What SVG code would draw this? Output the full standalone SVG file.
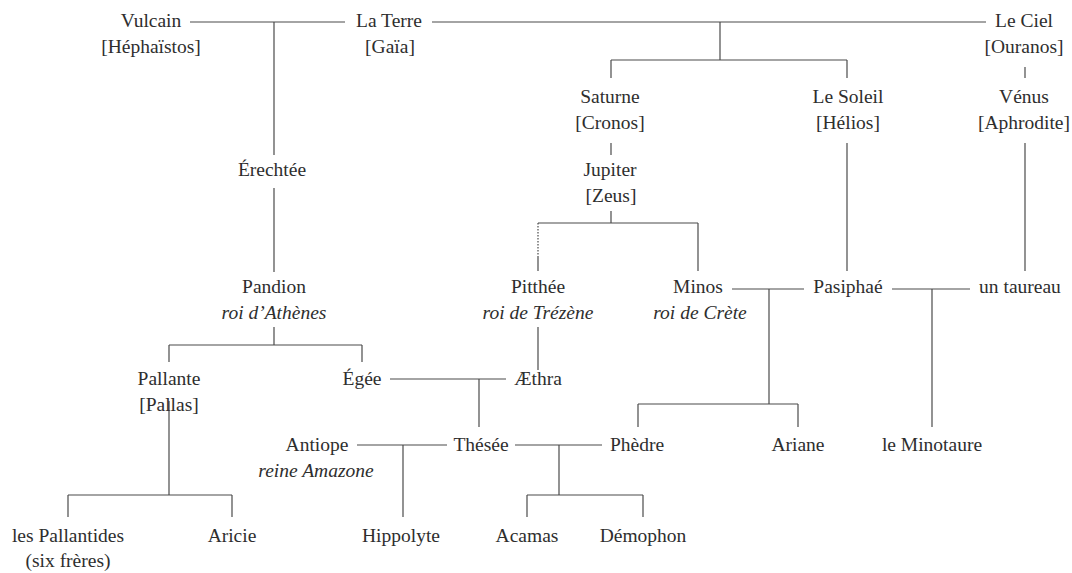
<svg xmlns="http://www.w3.org/2000/svg" width="1072" height="573" viewBox="0 0 1072 573">
<style>
text{font-family:"Liberation Serif","Times New Roman",serif;font-size:19.5px;fill:#2e2e2e;text-anchor:middle}
.it{font-style:italic}
.c line{stroke:#4a4a4a;stroke-width:1.2;fill:none}
.c line.dot{stroke-dasharray:1.5 1.5}
</style>
<rect width="1072" height="573" fill="#fff"/>
<g id="connectors" class="c">
<line x1="190" y1="22" x2="345" y2="22"/>
<line x1="274" y1="22" x2="274" y2="155"/>
<line x1="274" y1="188" x2="274" y2="272"/>
<line x1="432" y1="22" x2="986" y2="22"/>
<line x1="720" y1="22" x2="720" y2="60"/>
<line x1="611" y1="60" x2="847" y2="60"/>
<line x1="611" y1="60" x2="611" y2="78"/>
<line x1="847" y1="60" x2="847" y2="78"/>
<line x1="1025" y1="67" x2="1025" y2="78"/>
<line x1="611" y1="143" x2="611" y2="155"/>
<line x1="847" y1="143" x2="847" y2="271"/>
<line x1="1025" y1="143" x2="1025" y2="271"/>
<line x1="611" y1="211" x2="611" y2="223"/>
<line x1="538" y1="223" x2="698" y2="223"/>
<line class="dot" x1="538" y1="223" x2="538" y2="256"/>
<line x1="538" y1="256" x2="538" y2="271"/>
<line x1="698" y1="223" x2="698" y2="271"/>
<line x1="732" y1="289" x2="804" y2="289"/>
<line x1="769" y1="289" x2="769" y2="404"/>
<line x1="638" y1="404" x2="798" y2="404"/>
<line x1="638" y1="404" x2="638" y2="427"/>
<line x1="798" y1="404" x2="798" y2="427"/>
<line x1="892" y1="289" x2="970" y2="289"/>
<line x1="932" y1="289" x2="932" y2="427"/>
<line x1="274" y1="327" x2="274" y2="345"/>
<line x1="169" y1="345" x2="362" y2="345"/>
<line x1="169" y1="345" x2="169" y2="362"/>
<line x1="362" y1="345" x2="362" y2="362"/>
<line x1="538" y1="327" x2="538" y2="370"/>
<line x1="390" y1="379" x2="506" y2="379"/>
<line x1="479" y1="379" x2="479" y2="427"/>
<line x1="169" y1="401" x2="169" y2="495"/>
<line x1="68" y1="495" x2="232" y2="495"/>
<line x1="68" y1="495" x2="68" y2="517"/>
<line x1="232" y1="495" x2="232" y2="517"/>
<line x1="357" y1="445" x2="447" y2="445"/>
<line x1="403" y1="445" x2="403" y2="517"/>
<line x1="515" y1="445" x2="602" y2="445"/>
<line x1="559" y1="445" x2="559" y2="495"/>
<line x1="527" y1="495" x2="643" y2="495"/>
<line x1="527" y1="495" x2="527" y2="517"/>
<line x1="643" y1="495" x2="643" y2="517"/>
</g>
<g id="vulcain"><text x="151" y="27">Vulcain</text><text x="151" y="53">[Héphaïstos]</text></g>
<g id="la-terre"><text x="389" y="27">La Terre</text><text x="390" y="53">[Gaïa]</text></g>
<g id="le-ciel"><text x="1024" y="27">Le Ciel</text><text x="1024" y="53">[Ouranos]</text></g>
<g id="saturne"><text x="610" y="103">Saturne</text><text x="610" y="129">[Cronos]</text></g>
<g id="le-soleil"><text x="848" y="103">Le Soleil</text><text x="848" y="129">[Hélios]</text></g>
<g id="venus"><text x="1024" y="103">Vénus</text><text x="1024" y="129">[Aphrodite]</text></g>
<g id="erechtee"><text x="272" y="176">Érechtée</text></g>
<g id="jupiter"><text x="610" y="176">Jupiter</text><text x="611" y="202">[Zeus]</text></g>
<g id="pandion"><text x="274" y="293">Pandion</text><text class="it" x="274" y="319">roi d’Athènes</text></g>
<g id="pitthee"><text x="538" y="293">Pitthée</text><text class="it" x="538" y="319">roi de Trézène</text></g>
<g id="minos"><text x="698" y="293">Minos</text><text class="it" x="700" y="319">roi de Crète</text></g>
<g id="pasiphae"><text x="848" y="293">Pasiphaé</text></g>
<g id="taureau"><text x="1020" y="293">un taureau</text></g>
<g id="pallante"><text x="169" y="385">Pallante</text><text x="169" y="411">[Pallas]</text></g>
<g id="egee"><text x="362" y="385">Égée</text></g>
<g id="aethra"><text x="538" y="385">Æthra</text></g>
<g id="antiope"><text x="317" y="451">Antiope</text><text class="it" x="316" y="477">reine Amazone</text></g>
<g id="thesee"><text x="481" y="451">Thésée</text></g>
<g id="phedre"><text x="637" y="451">Phèdre</text></g>
<g id="ariane"><text x="798" y="451">Ariane</text></g>
<g id="minotaure"><text x="932" y="451">le Minotaure</text></g>
<g id="pallantides"><text x="68" y="542">les Pallantides</text><text x="68" y="567">(six frères)</text></g>
<g id="aricie"><text x="232" y="542">Aricie</text></g>
<g id="hippolyte"><text x="401" y="542">Hippolyte</text></g>
<g id="acamas"><text x="527" y="542">Acamas</text></g>
<g id="demophon"><text x="643" y="542">Démophon</text></g>
</svg>
